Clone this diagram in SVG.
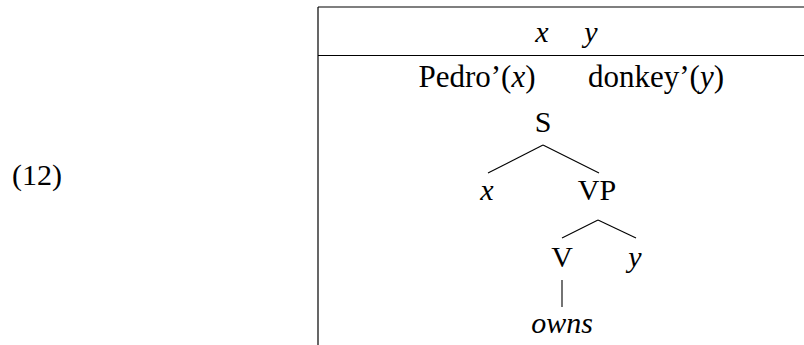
<svg xmlns="http://www.w3.org/2000/svg" width="804" height="345" viewBox="0 0 804 345">
<style>
text{font-family:"Liberation Serif","Times New Roman",serif;font-size:30px;fill:#000;text-anchor:middle}
.i{font-style:italic}
.rule{stroke:#000;stroke-width:1.2;fill:none}
.edge{stroke:#000;stroke-width:1.1;fill:none}
</style>
<rect width="804" height="345" fill="#fff"/>
<g id="label"><text x="37" y="185">(12)</text></g>
<g id="box">
<line class="rule" x1="318" y1="7" x2="804" y2="7"/>
<line class="rule" x1="318" y1="55.5" x2="804" y2="55.5"/>
<line class="rule" x1="318" y1="7" x2="318" y2="345"/>
</g>
<g id="universe"><text x="542" y="42" class="i">x</text><text x="591" y="42" class="i">y</text></g>
<g id="conditions">
<text x="477" y="87" style="font-size:31px">Pedro’(<tspan class="i">x</tspan>)</text>
<text x="656" y="87" style="font-size:31px">donkey’(<tspan class="i">y</tspan>)</text>
</g>
<g id="connectors">
<line class="edge" x1="543" y1="145" x2="488" y2="173"/>
<line class="edge" x1="543" y1="145" x2="599" y2="173"/>
<line class="edge" x1="598" y1="220" x2="562" y2="238"/>
<line class="edge" x1="598" y1="220" x2="636" y2="238"/>
<line class="edge" x1="562" y1="280" x2="562" y2="307"/>
</g>
<g id="node-S"><text x="543" y="132">S</text></g>
<g id="node-x"><text x="487" y="200" class="i">x</text></g>
<g id="node-VP"><text x="597" y="200">VP</text></g>
<g id="node-V"><text x="562" y="267">V</text></g>
<g id="node-y"><text x="635" y="267" class="i">y</text></g>
<g id="node-owns"><text x="562" y="333" class="i">owns</text></g>
</svg>
